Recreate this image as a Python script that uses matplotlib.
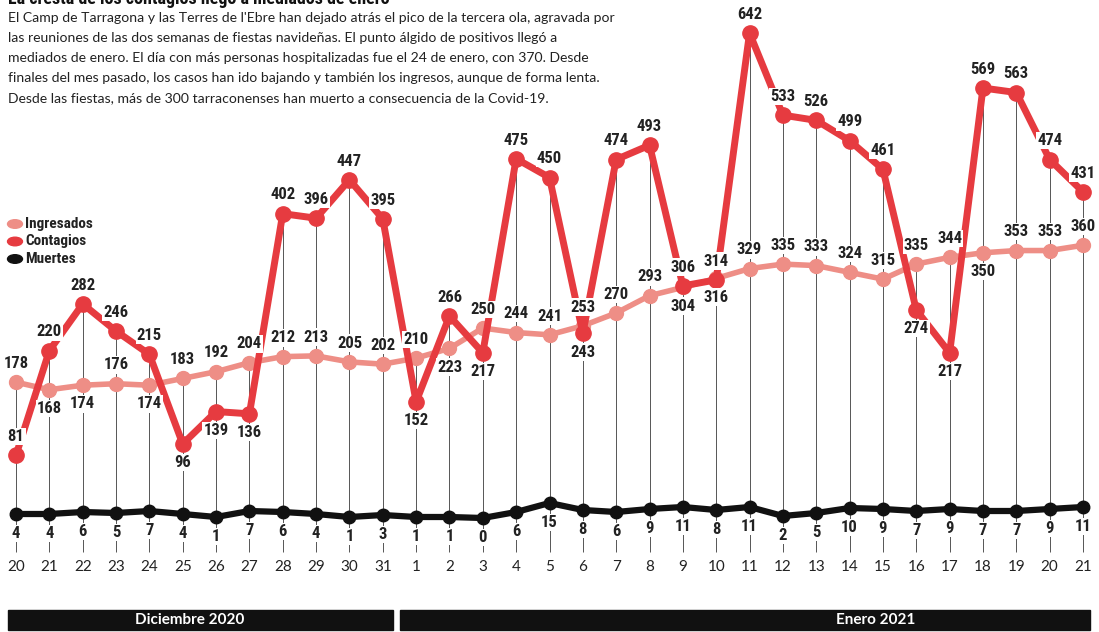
import numpy as np
import matplotlib
matplotlib.use('Agg')
import matplotlib.pyplot as plt
from matplotlib.patches import Rectangle
import matplotlib.transforms as mtransforms
from matplotlib import font_manager

# --- data ---
dias = ['20', '21', '22', '23', '24', '25', '26', '27', '28', '29', '30', '31',
        '1', '2', '3', '4', '5', '6', '7', '8', '9', '10', '11', '12', '13',
        '14', '15', '16', '17', '18', '19', '20', '21']
contagios = [81, 220, 282, 246, 215, 96, 139, 136, 402, 396, 447, 395,
             152, 266, 217, 475, 450, 243, 474, 493, 306, 314, 642, 533, 526,
             499, 461, 274, 217, 569, 563, 474, 431]
ingresados = [178, 168, 174, 176, 174, 183, 192, 204, 212, 213, 205, 202,
              210, 223, 250, 244, 241, 253, 270, 293, 304, 316, 329, 335, 333,
              324, 315, 335, 344, 350, 353, 353, 360]
muertes = [4, 4, 6, 5, 7, 4, 1, 7, 6, 4, 1, 3,
           1, 1, 0, 6, 15, 8, 6, 9, 11, 8, 11, 2, 5,
           10, 9, 7, 9, 7, 7, 9, 11]
meses = ['Diciembre 2020', 'Enero 2021']

# label placement ('a' above, 'b' below)
pos_contagios = 'aaaaa' + 'bbb' + 'aaaa' + 'bab' + 'aa' + 'b' + 'aaaa' + 'aaaaa' + 'bb' + 'aaaa'
pos_ingresados = 'abbab' + 'aaaaaaa' + 'aba' + 'aaaaa' + 'bb' + 'aaaaaaa' + 'b' + 'aaa'

ROJO = '#e63b40'
ROSA = '#ee8e86'
NEGRO = '#111111'

# pick the narrowest bold font available
installed = {f.name for f in font_manager.fontManager.ttflist}
narrow = [f for f in ['Roboto Condensed', 'Liberation Sans Narrow', 'Open Sans Condensed', 'Roboto']
          if f in installed]
NUM = narrow[:1] + ['DejaVu Sans']
TXT = ['Lato', 'DejaVu Sans']

x = np.arange(len(dias))

fig = plt.figure(figsize=(10.99, 6.32), dpi=100)
ax = fig.add_axes([0, 0, 1, 1])
ax.set_xlim(-0.48, 32.48)
ax.set_ylim(-154, 686)
ax.axis('off')

ax2 = ax.twinx()
ax2.set_ylim(-114, 518)
ax2.axis('off')

# vertical guide lines
tops = np.maximum(contagios, ingresados)
ax.vlines(x, -48, tops, color='#555555', lw=0.7, zorder=1)

ax.plot(x, ingresados, color=ROSA, lw=4, marker='o', ms=10, zorder=3)
ax.plot(x, contagios, color=ROJO, lw=5, marker='o', ms=11, zorder=4)
ax2.plot(x, muertes, color=NEGRO, lw=4.5, marker='o', ms=9, zorder=4)

box = dict(fc='white', ec='none', pad=0.8)
for i in x:
    for vals, pos in ((contagios, pos_contagios), (ingresados, pos_ingresados)):
        off = 13.5 if pos[i] == 'a' else -13.5
        ax.annotate(str(vals[i]), (i, vals[i]), xytext=(0, off), textcoords='offset points',
                    ha='center', va='center', fontsize=12, fontweight='bold',
                    family=NUM, color='#222222', bbox=box, zorder=6)
    ax2.annotate(str(muertes[i]), (i, muertes[i]), xytext=(0, -14), textcoords='offset points',
                 ha='center', va='center', fontsize=12, fontweight='bold',
                 family=NUM, color='#222222', bbox=box, zorder=6)
    ax.text(i, -67, dias[i], ha='center', va='center', fontsize=11, family=TXT, color='#222222')

# month bars
trans = mtransforms.blended_transform_factory(ax.transData, ax.transAxes)
ax.add_patch(Rectangle((-0.24, 0.003), 11.55, 0.032, transform=trans, color='#111111', zorder=2))
ax.add_patch(Rectangle((11.52, 0.003), 20.7, 0.032, transform=trans, color='#111111', zorder=2))
ax.text(5.2, 0.019, meses[0], transform=trans, ha='center', va='center', color='white',
        fontsize=11, fontweight='bold', family=TXT)
ax.text(25.77, 0.019, meses[1], transform=trans, ha='center', va='center', color='white',
        fontsize=11, fontweight='bold', family=TXT)

# legend
for k, (lab, col) in enumerate([('Ingresados', ROSA), ('Contagios', ROJO), ('Muertes', NEGRO)]):
    yy = 1 - (224 + 17.5 * k) / 632
    fig.patches.append(plt.Circle((15 / 1099, yy), 0.0068, transform=fig.transFigure,
                                  color=col, figure=fig))
    fig.text(25 / 1099, yy, lab, va='center', ha='left', fontsize=11, fontweight='bold',
             family=NUM, color='#222222')

# headline and text
fig.text(8 / 1099, 1 - 4 / 632, 'La cresta de los contagios llegó a mediados de enero',
         va='baseline', ha='left', fontsize=13, fontweight='bold', family=NUM, color='#111111')
cuerpo = ("El Camp de Tarragona y las Terres de l'Ebre han dejado atrás el pico de la tercera ola, agravada por\n"
          "las reuniones de las dos semanas de fiestas navideñas. El punto álgido de positivos llegó a\n"
          "mediados de enero. El día con más personas hospitalizadas fue el 24 de enero, con 370. Desde\n"
          "finales del mes pasado, los casos han ido bajando y también los ingresos, aunque de forma lenta.\n"
          "Desde las fiestas, más de 300 tarraconenses han muerto a consecuencia de la Covid-19.")
fig.text(8 / 1099, 1 - 12 / 632, cuerpo, va='top', ha='left', fontsize=10.1, family=TXT,
         color='#222222', linespacing=1.8)

fig.savefig('out.png', dpi=100)
